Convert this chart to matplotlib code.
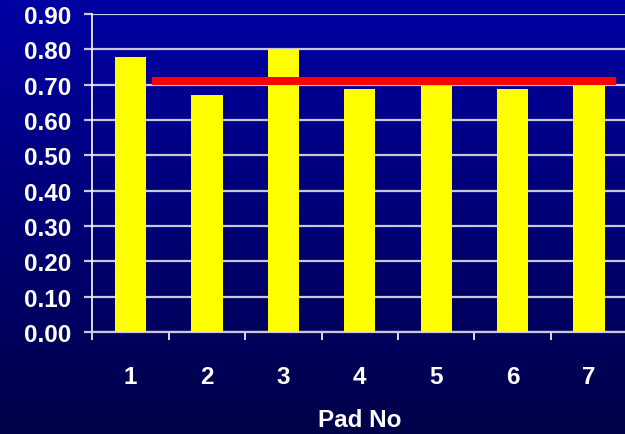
import matplotlib
matplotlib.use("Agg")
from matplotlib import pyplot as plt
from matplotlib.colors import LinearSegmentedColormap
import numpy as np

pads = ["1", "2", "3", "4", "5", "6", "7"]
values = [0.777, 0.672, 0.80, 0.689, 0.695, 0.689, 0.698]
target = 0.711
target_span = (0.28, 6.35)
yticks = [0.0, 0.1, 0.2, 0.3, 0.4, 0.5, 0.6, 0.7, 0.8, 0.9]

plt.rcParams['font.family'] = ['Liberation Sans', 'DejaVu Sans']
plt.rcParams['font.weight'] = 'bold'

fig = plt.figure(figsize=(6.25, 4.35), dpi=100)

# blue background, lighter at the top
bg = fig.add_axes([0, 0, 1, 1], zorder=-10)
cmap = LinearSegmentedColormap.from_list("bg", ["#000048", "#0000A4"])
grad = np.linspace(0, 1, 256).reshape(-1, 1)
bg.imshow(grad, aspect='auto', cmap=cmap, origin='lower', extent=[0, 1, 0, 1])
bg.set_axis_off()

ax = fig.add_axes([92.3 / 625, 102 / 435, 535 / 625, 318 / 435])
ax.patch.set_alpha(0)

x = np.arange(len(pads))
ax.bar(x, values, width=0.41, color="#FFFF00", zorder=3)
ax.hlines(target, target_span[0], target_span[1], color="#FF0000",
          linewidth=5.8, zorder=4, capstyle='butt')

ax.set_xlim(-0.5, 6.5)
ax.set_ylim(0, 0.9)
ax.set_yticks(yticks)
ax.set_yticklabels(["%.2f" % v for v in yticks])
ax.set_xticks(x)
ax.set_xticklabels(pads)
ax.set_xticks(np.arange(-0.5, 7, 1), minor=True)

ax.grid(axis='y', color="#C8C8DC", linewidth=1.6, zorder=1)
for s in ["top", "right"]:
    ax.spines[s].set_visible(False)
ax.spines["left"].set_color("white")
ax.spines["left"].set_linewidth(1.2)
ax.spines["bottom"].set_color("#C8C8DC")
ax.spines["bottom"].set_linewidth(1.6)

ax.tick_params(axis='y', colors="white", labelsize=17.5, length=6,
               width=1.6, pad=9, color="#C8C8DC")
ax.tick_params(axis='x', which='major', length=0, colors="white",
               labelsize=17.5, pad=23.5)
ax.tick_params(axis='x', which='minor', length=6, width=1.2, color="white")

fig.text(359.8 / 625, 8 / 435, "Pad No", color="white", fontsize=17.5,
         fontweight='bold', ha='center', va='baseline')

fig.savefig("out.png", dpi=100)
